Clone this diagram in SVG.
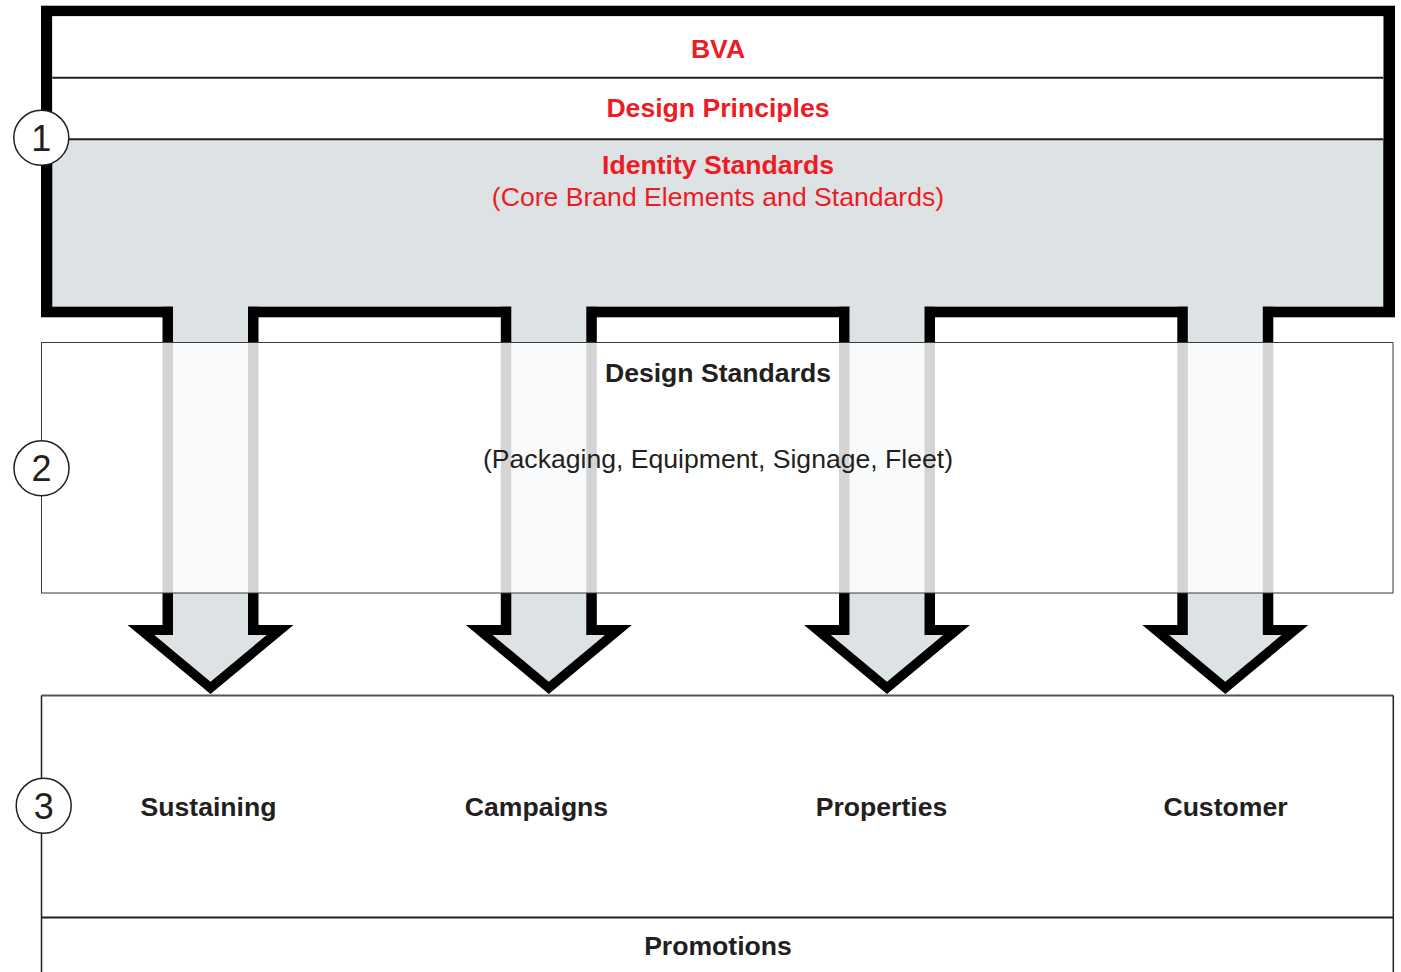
<svg xmlns="http://www.w3.org/2000/svg" width="1401" height="972" viewBox="0 0 1401 972">
<style>
.t{font-family:"Liberation Sans",Arial,Helvetica,sans-serif;font-size:26.6px;text-anchor:middle}
.b{font-weight:bold}
.red{fill:#ed1c24}
.dk{fill:#231f20}
.blk{fill:#000}
.gry{fill:#dde2e5}
.div{stroke:#231f20;stroke-width:2;fill:none}
.edge{stroke:#231f20;stroke-width:1.5;fill:none}
.num{font-family:"Liberation Sans",Arial,Helvetica,sans-serif;font-size:36px;text-anchor:middle;fill:#231f20}
.circ{fill:#fff;stroke:#231f20;stroke-width:1.5}
</style>
<rect width="1401" height="972" fill="#fff"/>
<g id="level1">
  <rect class="blk" x="41" y="5.7" width="1354" height="311.6"/>
  <rect class="gry" x="52.3" y="16.3" width="1331" height="290.4"/>
  <rect fill="#fff" x="52.3" y="16.3" width="1331" height="123"/>
  <line class="div" x1="52.3" y1="77.7" x2="1383.3" y2="77.7"/>
  <line class="div" x1="52.3" y1="139.3" x2="1383.3" y2="139.3"/>
  <text class="t b red" x="718" y="58">BVA</text>
  <text class="t b red" x="718" y="117">Design Principles</text>
  <text class="t b red" x="718" y="174">Identity Standards</text>
  <text class="t red" x="718" y="206">(Core Brand Elements and Standards)</text>
</g>
<g id="connectors">
  <path class="blk" d="M162.5,306.7 H258.5 V625 H293.5 L210.5,694 L127.5,625 H162.5 Z"/>
  <path class="gry" d="M173,305 H248 V635 H266.7 L210.5,681.7 L154.3,635 H173 Z"/>
  <path class="blk" d="M500.8,306.7 H596.8 V625 H631.8 L548.8,694 L465.8,625 H500.8 Z"/>
  <path class="gry" d="M511.3,305 H586.3 V635 H605 L548.8,681.7 L492.6,635 H511.3 Z"/>
  <path class="blk" d="M839,306.7 H935 V625 H970 L887,694 L804,625 H839 Z"/>
  <path class="gry" d="M849.5,305 H924.5 V635 H943.2 L887,681.7 L830.8,635 H849.5 Z"/>
  <path class="blk" d="M1177.3,306.7 H1273.3 V625 H1308.3 L1225.3,694 L1142.3,625 H1177.3 Z"/>
  <path class="gry" d="M1187.8,305 H1262.8 V635 H1281.5 L1225.3,681.7 L1169.1,635 H1187.8 Z"/>
</g>
<g id="level2">
  <rect x="41.5" y="342.5" width="1351.5" height="250.5" fill="#fff" fill-opacity="0.83" stroke="#3a3a3a" stroke-width="1"/>
  <text class="t b dk" x="718" y="382">Design Standards</text>
  <text class="t dk" x="718" y="468">(Packaging, Equipment, Signage, Fleet)</text>
</g>
<g id="level3">
  <rect x="41.5" y="695.5" width="1351.8" height="290" fill="#fff" stroke="none"/>
  <line x1="41.5" y1="695.5" x2="1393.3" y2="695.5" stroke="#555" stroke-width="2"/>
  <line class="edge" x1="41.5" y1="695.5" x2="41.5" y2="972"/>
  <line class="edge" x1="1393.3" y1="695.5" x2="1393.3" y2="972"/>
  <line class="div" x1="41.5" y1="917.5" x2="1393.3" y2="917.5"/>
  <text class="t b dk" x="208.5" y="816">Sustaining</text>
  <text class="t b dk" x="536.5" y="816">Campaigns</text>
  <text class="t b dk" x="881.5" y="816">Properties</text>
  <text class="t b dk" x="1225.5" y="816">Customer</text>
</g>
<g id="promotions">
  <text class="t b dk" x="718" y="955">Promotions</text>
</g>
<g id="marker1">
  <circle class="circ" cx="41.3" cy="137.8" r="27.5"/>
  <text class="num" x="41.3" y="150.5">1</text>
</g>
<g id="marker2">
  <circle class="circ" cx="41.5" cy="468.3" r="27.5"/>
  <text class="num" x="41.5" y="481">2</text>
</g>
<g id="marker3">
  <circle class="circ" cx="43.7" cy="805.8" r="27.5"/>
  <text class="num" x="43.7" y="818.5">3</text>
</g>
</svg>
